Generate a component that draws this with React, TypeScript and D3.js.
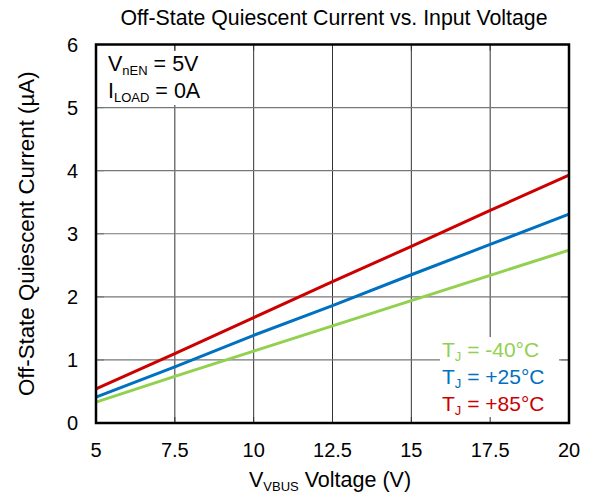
import React from 'react';
import * as d3 from 'd3';

const xTicks = [5, 7.5, 10, 12.5, 15, 17.5, 20];
const yTicks = [0, 1, 2, 3, 4, 5, 6];
const voltages = [5, 7.5, 10, 12.5, 15, 17.5, 20];
const currentM40 = [0.33, 0.74, 1.14, 1.54, 1.94, 2.34, 2.74];
const current25 = [0.41, 0.89, 1.39, 1.86, 2.35, 2.83, 3.31];
const current85 = [0.54, 1.1, 1.67, 2.24, 2.8, 3.37, 3.93];

const series = [
  { label: '-40°C', color: '#92D050', values: currentM40 },
  { label: '+25°C', color: '#0070C0', values: current25 },
  { label: '+85°C', color: '#CC0000', values: current85 },
];

const W = 592;
const H = 498;
const margin = { top: 44.5, right: 23, bottom: 75, left: 96 };
const font = 'Liberation Sans, Arial, sans-serif';

export default function App() {
  const x = d3
    .scaleLinear()
    .domain([5, 20])
    .range([margin.left, W - margin.right]);
  const y = d3
    .scaleLinear()
    .domain([0, 6])
    .range([H - margin.bottom, margin.top]);

  const line = d3
    .line<number>()
    .x((_, i) => x(voltages[i]))
    .y((d) => y(d));

  const x0 = x(5);
  const x1 = x(20);
  const y0 = y(0);
  const y1 = y(6);

  return (
    <svg
      width={W}
      height={H}
      style={{ position: 'absolute', left: 0, top: 0 }}
      fontFamily={font}
    >
      <rect width={W} height={H} fill="#fff" />
      <text x={334} y={25} fontSize={21.3} textAnchor="middle">
        Off-State Quiescent Current vs. Input Voltage
      </text>

      {/* grid */}
      {xTicks.map((t) => (
        <line key={'gx' + t} x1={x(t)} x2={x(t)} y1={y0} y2={y1} stroke="#333" strokeWidth={1} />
      ))}
      {yTicks.map((t) => (
        <line key={'gy' + t} x1={x0} x2={x1} y1={y(t)} y2={y(t)} stroke="#777" strokeWidth={1.2} />
      ))}

      {/* annotation backgrounds */}
      <rect x={x0 + 2} y={51} width={112} height={54} fill="#fff" />
      <rect x={440} y={337} width={119} height={y0 - 337 - 1} fill="#fff" />

      {/* inner ticks */}
      {xTicks.map((t) => (
        <g key={'tx' + t}>
          <line x1={x(t)} x2={x(t)} y1={y0} y2={y0 - 6} stroke="#333" />
          <line x1={x(t)} x2={x(t)} y1={y1} y2={y1 + 6} stroke="#333" />
        </g>
      ))}
      {yTicks.map((t) => (
        <g key={'ty' + t}>
          <line x1={x0} x2={x0 + 8} y1={y(t)} y2={y(t)} stroke="#777" strokeWidth={1.2} />
          <line x1={x1} x2={x1 - 8} y1={y(t)} y2={y(t)} stroke="#777" strokeWidth={1.2} />
        </g>
      ))}

      {/* data */}
      {series.map((s) => (
        <path key={s.label} d={line(s.values) || ''} fill="none" stroke={s.color} strokeWidth={3} />
      ))}

      {/* frame */}
      <rect x={x0} y={y1} width={x1 - x0} height={y0 - y1} fill="none" stroke="#000" strokeWidth={2.5} />

      {/* tick labels */}
      {xTicks.map((t) => (
        <text key={'lx' + t} x={x(t)} y={457} fontSize={20} textAnchor="middle">
          {t}
        </text>
      ))}
      {yTicks.map((t) => (
        <text key={'ly' + t} x={78} y={y(t) + 7} fontSize={20} textAnchor="end">
          {t}
        </text>
      ))}

      {/* axis titles */}
      <text x={330} y={487} fontSize={21.5} textAnchor="middle">
        V<tspan fontSize={13} dy={4}>VBUS</tspan>
        <tspan dy={-4}> Voltage (V)</tspan>
      </text>
      <text
        transform={`translate(34, ${(y0 + y1) / 2}) rotate(-90)`}
        fontSize={22.3}
        textAnchor="middle"
      >
        Off-State Quiescent Current (µA)
      </text>

      {/* conditions */}
      <text x={108} y={71} fontSize={21.5}>
        V<tspan fontSize={13} dy={4}>nEN</tspan>
        <tspan dy={-4}> = 5V</tspan>
      </text>
      <text x={108} y={98} fontSize={21.5}>
        I<tspan fontSize={13} dy={4}>LOAD</tspan>
        <tspan dy={-4}> = 0A</tspan>
      </text>

      {/* legend */}
      {series.map((s, i) => (
        <text key={'lg' + s.label} x={442} y={357 + i * 27} fontSize={21} fill={s.color}>
          T<tspan fontSize={13} dy={4}>J</tspan>
          <tspan dy={-4}> = {s.label}</tspan>
        </text>
      ))}
    </svg>
  );
}
